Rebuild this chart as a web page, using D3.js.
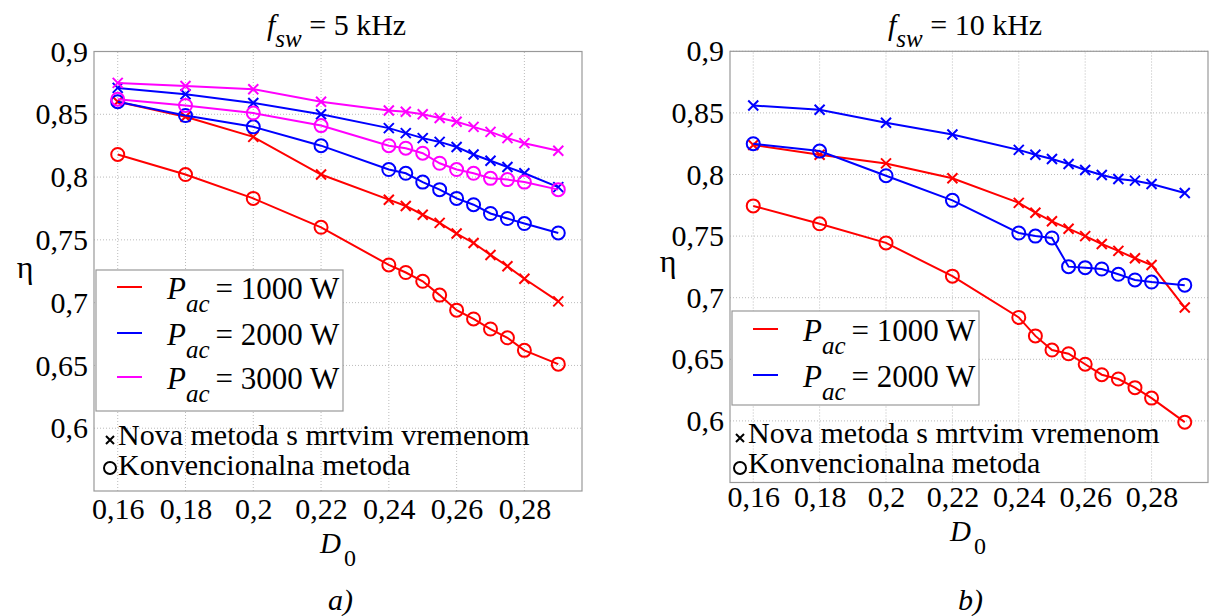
<!DOCTYPE html>
<html><head><meta charset="utf-8">
<script src="https://cdn.jsdelivr.net/npm/d3@7"></script>
<style>
body{margin:0;background:#fff;}
</style></head>
<body><svg id="c" width="1209" height="616" font-family="Liberation Serif"></svg>
<script>
const D0 = [0.16,0.18,0.2,0.22,0.24,0.245,0.25,0.255,0.26,0.265,0.27,0.275,0.28,0.29];
const xTicks = [0.16,0.18,0.2,0.22,0.24,0.26,0.28];
const yTicks = [0.6,0.65,0.7,0.75,0.8,0.85,0.9];
// panel a) fsw = 5 kHz
const a_nova_1000 = [0.860,0.848,0.832,0.802,0.782,0.777,0.770,0.7635,0.755,0.7475,0.738,0.729,0.719,0.701];
const a_konv_1000 = [0.818,0.802,0.783,0.760,0.730,0.724,0.717,0.706,0.694,0.687,0.679,0.672,0.662,0.651];
const a_nova_2000 = [0.871,0.866,0.859,0.850,0.839,0.835,0.831,0.828,0.824,0.818,0.813,0.808,0.803,0.792];
const a_konv_2000 = [0.860,0.849,0.840,0.825,0.806,0.803,0.796,0.790,0.783,0.778,0.771,0.767,0.763,0.7555];
const a_nova_3000 = [0.875,0.8725,0.870,0.860,0.853,0.852,0.850,0.847,0.844,0.840,0.836,0.831,0.827,0.821];
const a_konv_3000 = [0.862,0.857,0.851,0.841,0.825,0.823,0.819,0.811,0.806,0.803,0.799,0.798,0.796,0.790];
// panel b) fsw = 10 kHz
const b_nova_1000 = [0.824,0.816,0.809,0.797,0.777,0.769,0.762,0.756,0.750,0.7436,0.738,0.732,0.7265,0.692];
const b_konv_1000 = [0.7745,0.760,0.7445,0.7175,0.684,0.669,0.6575,0.6545,0.646,0.6375,0.634,0.627,0.6185,0.599];
const b_nova_2000 = [0.856,0.8525,0.842,0.8325,0.820,0.816,0.8126,0.8085,0.8037,0.7996,0.7963,0.795,0.7923,0.785];
const b_konv_2000 = [0.825,0.819,0.799,0.779,0.7525,0.750,0.7485,0.7252,0.7244,0.7233,0.719,0.7144,0.7127,0.7102];

const colors = {"1000":"#ff0000","2000":"#0000ff","3000":"#ff00ff"};
const svg = d3.select("#c");
const fmt = d => String(+d.toFixed(2)).replace(".", ",");
const FF = "Liberation Serif";

function panel(cfg){
  const x = d3.scaleLinear().domain([0.153,0.297]).range([cfg.x0,cfg.x1]);
  const y = d3.scaleLinear().domain([0.55,0.9]).range([cfg.y0,cfg.y1]);
  const g = svg.append("g").attr("font-family",FF);
  // grid
  g.append("g").selectAll("line").data(xTicks).join("line")
    .attr("x1",d=>x(d)).attr("x2",d=>x(d)).attr("y1",cfg.y0).attr("y2",cfg.y1)
    .attr("stroke","#bbb").attr("stroke-width",1).attr("stroke-dasharray","1,2");
  g.append("g").selectAll("line").data(yTicks).join("line")
    .attr("x1",cfg.x0).attr("x2",cfg.x1).attr("y1",d=>y(d)).attr("y2",d=>y(d))
    .attr("stroke","#bbb").attr("stroke-width",1).attr("stroke-dasharray","1,2");
  // axes via d3
  const ax = g.append("g").attr("transform",`translate(0,${cfg.y0})`)
    .call(d3.axisBottom(x).tickValues(xTicks).tickFormat(fmt).tickSize(0).tickPadding(cfg.xpad));
  ax.attr("font-family",FF).attr("font-size",30);
  ax.select(".domain").remove();
  ax.selectAll("text").attr("fill","#000");
  const ay = g.append("g").attr("transform",`translate(${cfg.x0},0)`)
    .call(d3.axisLeft(y).tickValues(yTicks).tickFormat(fmt).tickSize(0).tickPadding(6));
  ay.attr("font-family",FF).attr("font-size",30);
  ay.select(".domain").remove();
  ay.selectAll("text").attr("fill","#000");
  // frame
  g.append("rect").attr("x",cfg.x0).attr("y",cfg.y1).attr("width",cfg.x1-cfg.x0).attr("height",cfg.y0-cfg.y1)
    .attr("fill","none").attr("stroke","#999").attr("stroke-width",1.2);
  // series
  const line = d3.line().x((d,i)=>x(D0[i])).y(d=>y(d));
  cfg.series.forEach(s=>{
    const col = colors[s.p];
    g.append("path").datum(s.v).attr("d",line).attr("fill","none").attr("stroke",col).attr("stroke-width",2);
    if(s.m==="o"){
      g.append("g").selectAll("circle").data(s.v).join("circle")
        .attr("cx",(d,i)=>x(D0[i])).attr("cy",d=>y(d)).attr("r",6.5)
        .attr("fill","none").attr("stroke",col).attr("stroke-width",2);
    } else {
      g.append("g").selectAll("path").data(s.v).join("path")
        .attr("d",(d,i)=>{const cx=x(D0[i]),cy=y(d),r=5;return `M${cx-r},${cy-r}L${cx+r},${cy+r}M${cx-r},${cy+r}L${cx+r},${cy-r}`;})
        .attr("stroke",col).attr("stroke-width",2);
    }
  });
  // title
  const t = g.append("text").attr("x",cfg.tx).attr("y",35).attr("font-size",30);
  t.append("tspan").attr("font-style","italic").text("f");
  t.append("tspan").attr("font-style","italic").attr("font-size",25).attr("dy",12).text("sw");
  t.append("tspan").attr("dy",-12).text(" = " + cfg.title);
  // y label
  g.append("text").attr("x",cfg.etax).attr("y",cfg.etay).attr("font-size",32).attr("text-anchor","middle").text("η");
  // x label
  const xl = g.append("text").attr("x",cfg.dx).attr("y",cfg.dy).attr("font-size",29);
  xl.append("tspan").attr("font-style","italic").text("D");
  xl.append("tspan").attr("font-size",24).attr("dy",13).attr("dx",3).text("0");
  // panel letter
  g.append("text").attr("x",cfg.lx).attr("y",610).attr("font-size",30).attr("font-style","italic").text(cfg.letter);
  // legend box
  const L = cfg.leg;
  g.append("rect").attr("x",L.x).attr("y",L.y).attr("width",L.w).attr("height",L.h)
    .attr("fill","#fff").attr("stroke","#999").attr("stroke-width",1.2);
  L.rows.forEach((p,i)=>{
    const ly = L.ly[i];
    g.append("line").attr("x1",L.x+21).attr("x2",L.x+46).attr("y1",ly).attr("y2",ly)
      .attr("stroke",colors[p]).attr("stroke-width",2);
    const tt = g.append("text").attr("x",L.x+71).attr("y",ly+12).attr("font-size",31);
    tt.append("tspan").attr("font-style","italic").text("P");
    tt.append("tspan").attr("font-style","italic").attr("font-size",25).attr("dy",13).text("ac");
    tt.append("tspan").attr("dy",-13).attr("dx",6).text("= " + p + " W");
  });
  // marker legend
  const M = cfg.mk;
  g.append("path").attr("d",`M${M.x-4},${M.y1-4}L${M.x+4},${M.y1+4}M${M.x-4},${M.y1+4}L${M.x+4},${M.y1-4}`)
    .attr("stroke","#000").attr("stroke-width",2);
  g.append("circle").attr("cx",M.x).attr("cy",M.y2).attr("r",6).attr("fill","none").attr("stroke","#000").attr("stroke-width",2);
  g.append("text").attr("x",M.x+8).attr("y",M.b1).attr("font-size",30).text("Nova metoda s mrtvim vremenom");
  g.append("text").attr("x",M.x+8).attr("y",M.b2).attr("font-size",30).text("Konvencionalna metoda");
}

panel({x0:94,x1:582,y0:491,y1:51.5,xpad:7,tx:267,title:"5 kHz",etax:25,etay:278,dx:320,dy:553,lx:328,letter:"a)",
  series:[
    {p:"1000",m:"x",v:a_nova_1000},{p:"1000",m:"o",v:a_konv_1000},
    {p:"2000",m:"x",v:a_nova_2000},{p:"2000",m:"o",v:a_konv_2000},
    {p:"3000",m:"x",v:a_nova_3000},{p:"3000",m:"o",v:a_konv_3000}],
  leg:{x:96,y:270,w:247,h:141,rows:["1000","2000","3000"],ly:[287,333,377]},
  mk:{x:110,y1:440,y2:468,b1:445,b2:475}
});
panel({x0:730,x1:1208,y0:482.5,y1:51.3,xpad:3,tx:888,title:"10 kHz",etax:668,etay:272,dx:950,dy:541,lx:958,letter:"b)",
  series:[
    {p:"1000",m:"x",v:b_nova_1000},{p:"1000",m:"o",v:b_konv_1000},
    {p:"2000",m:"x",v:b_nova_2000},{p:"2000",m:"o",v:b_konv_2000}],
  leg:{x:732,y:311,w:247,h:94,rows:["1000","2000"],ly:[329,375]},
  mk:{x:740,y1:438,y2:468,b1:443,b2:473}
});
</script></body></html>
